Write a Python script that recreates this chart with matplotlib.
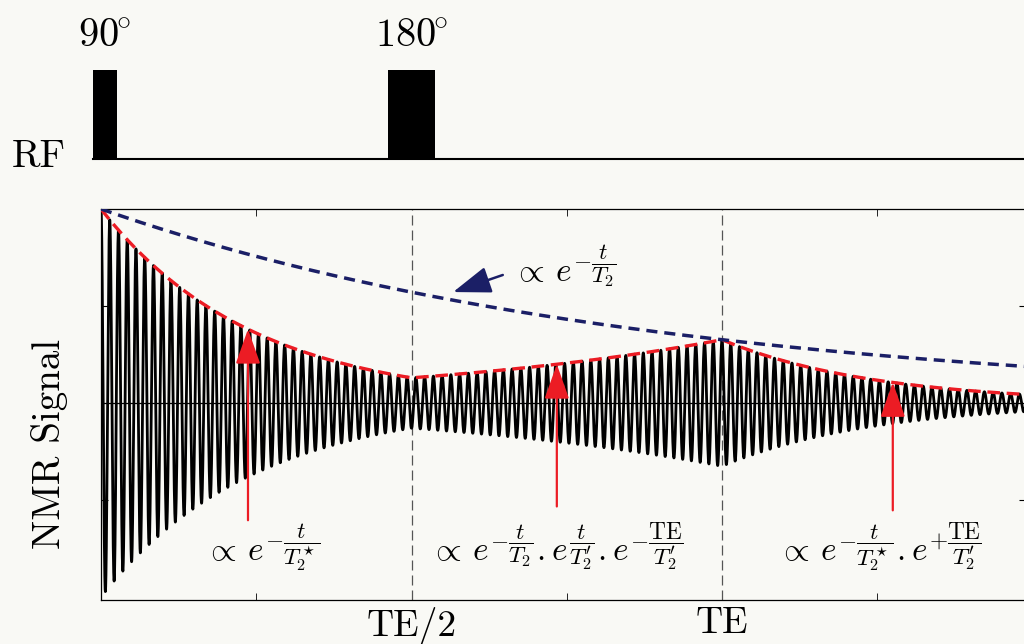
import numpy as np
import matplotlib
matplotlib.use("Agg")
import matplotlib.pyplot as plt

plt.rcParams['font.family'] = 'serif'
plt.rcParams['font.serif'] = ['cmr10']
plt.rcParams['mathtext.fontset'] = 'cm'
plt.rcParams['axes.formatter.use_mathtext'] = True

# ------- sequence parameters (units of TE)
TE = 1.0
T2 = 0.893          # transverse relaxation
T2_star = 0.245     # effective decay
T2_prime = 1.0 / (1.0 / T2_star - 1.0 / T2)
freq = 71           # oscillations per TE
t_max = 1.4895

# RF pulses
pulse_labels = [r'$90^{\!\!\circ}$', r'$180^{\!\!\circ}$']
pulse_centers = [0.006, 0.4997]
pulse_widths = [0.0387, 0.076]

# arrows (x position, tail)
red_arrow_x = [0.2367, 0.734, 1.275]
red_arrow_tail = [-0.604, -0.533, -0.553]

labels = [r'$\propto\, e^{-\dfrac{t}{T_2^\star}}$',
          r'$\propto\, e^{-\dfrac{t}{T_2}}.e^{\dfrac{t}{T_2^\prime}}.e^{-\dfrac{\mathrm{TE}}{T_2^\prime}}$',
          r'$\propto\, e^{-\dfrac{t}{T_2^\star}}.e^{+\dfrac{\mathrm{TE}}{T_2^\prime}}$']
label_x = [0.1675, 0.53, 1.09]
label_y = [-0.812, -0.812, -0.812]
blue_label = r'$\propto\, e^{-\dfrac{t}{T_2}}$'


def envelope(t):
    t = np.asarray(t, dtype=float)
    env = np.exp(-t / T2_star)
    mid = (t >= TE / 2) & (t < TE)
    env[mid] = np.exp(-t[mid] / T2) * np.exp(t[mid] / T2_prime) * np.exp(-TE / T2_prime)
    late = t >= TE
    env[late] = np.exp(-t[late] / T2_star) * np.exp(TE / T2_prime)
    return env


t = np.linspace(0, t_max, 40000)
env = envelope(t)
signal = env * np.cos(2 * np.pi * freq * t)

bg = '#f9f9f5'
fig = plt.figure(figsize=(10.24, 6.44), dpi=100, facecolor=bg)

ax = fig.add_axes([101 / 1024, 44 / 644, 925 / 1024, 391 / 644])
ax.set_facecolor(bg)
ax.set_xlim(0, t_max)
ax.set_ylim(-1.015, 1.0)

ax.plot(t, signal, color='black', lw=2.0, zorder=2)
ax.axhline(0, color='black', lw=0.9, zorder=1)
for xv in [TE / 2, TE]:
    ax.axvline(xv, color='#555555', lw=0.9, dashes=(8, 4), zorder=1)

ax.plot(t, env, color='#ec1c24', lw=2.4, dashes=(3.8, 2.0), zorder=3)
ax.plot(t, np.exp(-t / T2), color='#1b1f66', lw=2.5, dashes=(3.2, 2.0), zorder=3)

# red arrows
for xa, ya in zip(red_arrow_x, red_arrow_tail):
    tip = envelope([xa])[0]
    ax.annotate('', xy=(xa, tip), xytext=(xa, ya),
                arrowprops=dict(arrowstyle='-|>,head_width=0.32,head_length=0.9',
                                color='#ec1c24', lw=1.6, mutation_scale=24,
                                shrinkA=0, shrinkB=0), zorder=4)

# blue arrow
ax.annotate('', xy=(0.567, 0.572), xytext=(0.647, 0.66),
            arrowprops=dict(arrowstyle='-|>,head_width=0.32,head_length=0.9',
                            color='#1b1f66', lw=1.8, mutation_scale=26,
                            shrinkA=0, shrinkB=0), zorder=4)
ax.text(0.663, 0.624, blue_label, fontsize=24, va='baseline', ha='left')

for lab, xl, yl in zip(labels, label_x, label_y):
    ax.text(xl, yl, lab, fontsize=24, va='baseline', ha='left')

ax.set_xticks([TE / 2, TE])
ax.set_xticklabels(['TE/2', 'TE'], fontsize=27)
ax.set_xticks([0.25, 0.75, 1.25], minor=True)
ax.set_yticks([-0.5, 0.5])
ax.set_yticklabels([])
ax.tick_params(axis='x', which='major', length=0, pad=5)
ax.tick_params(axis='x', which='minor', direction='in', length=5, top=True, bottom=True)
ax.tick_params(axis='y', direction='in', length=5, left=True, right=True)
for sp in ax.spines.values():
    sp.set_linewidth(0.9)

# RF line
ax_rf = fig.add_axes([101 / 1024, (644 - 170) / 644, 925 / 1024, 120 / 644])
ax_rf.set_xlim(0, t_max)
ax_rf.set_ylim(-0.1236, 1.2247)
ax_rf.axis('off')
ax_rf.bar(pulse_centers, [1, 1], width=pulse_widths, color='black', clip_on=False)
ax_rf.plot([pulse_centers[0] - pulse_widths[0] / 2, t_max], [0, 0], color='black', lw=1.5,
           clip_on=False)
for lab, c in zip(pulse_labels, pulse_centers):
    ax_rf.text(c, 1.26, lab, fontsize=29, ha='center', va='baseline')

fig.text(12 / 1024, 1 - 167 / 644, 'RF', fontsize=28, va='baseline', ha='left')
fig.text(50 / 1024, 1 - 444 / 644, 'NMR Signal', fontsize=28, rotation=90,
         ha='center', va='center')

fig.savefig('out.png', dpi=100, facecolor=bg)
